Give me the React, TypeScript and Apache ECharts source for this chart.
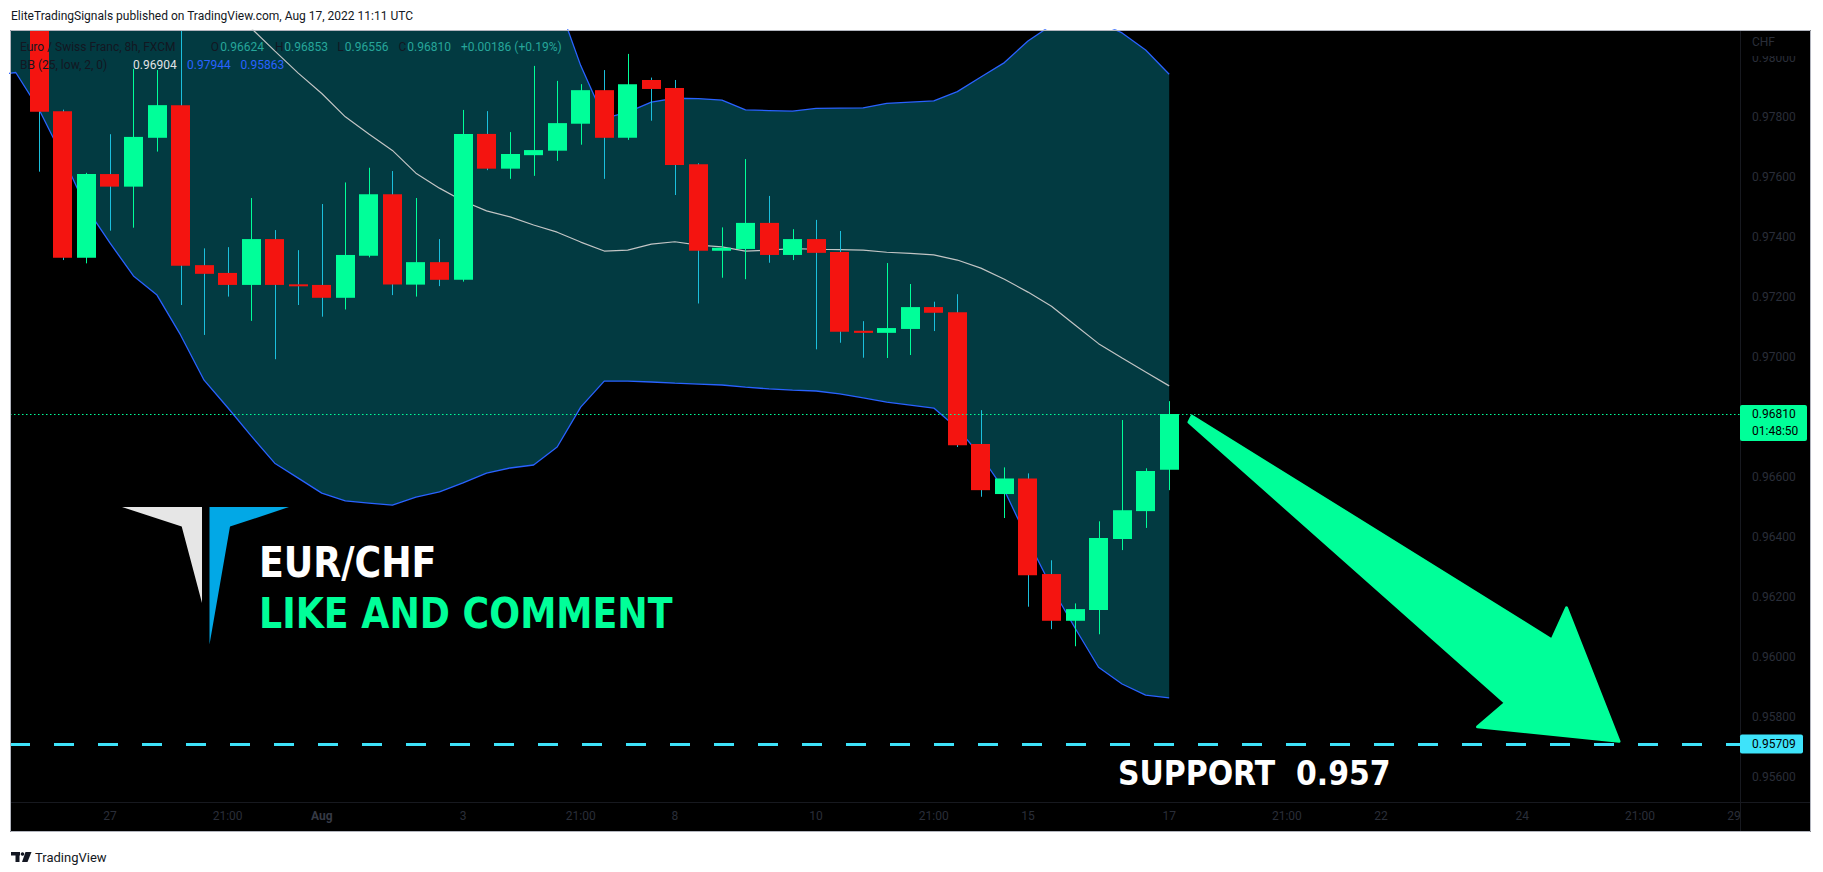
import React, { useEffect, useRef } from 'react';
import * as echarts from 'echarts';

const W = 1823;
const H = 872;

// 8h candles, index 0..48
const openPrices = [
  0.9812, 0.97821, 0.97332, 0.97611, 0.97569, 0.97732, 0.97841, 0.97307, 0.97281, 0.97241,
  0.97394, 0.97243, 0.97241, 0.97198, 0.97338, 0.97544, 0.97242, 0.97317, 0.97258, 0.97745,
  0.97629, 0.97674, 0.97689, 0.97779, 0.97891, 0.97732, 0.97925, 0.97898, 0.97644, 0.97355,
  0.97361, 0.97448, 0.97341, 0.97394, 0.97351, 0.97088, 0.97081, 0.97094, 0.97167, 0.9715,
  0.9671, 0.96543, 0.96595, 0.96276, 0.9612, 0.96156, 0.96393, 0.96486, 0.96624,
];
const closePrices = [
  0.97819, 0.97332, 0.97611, 0.97569, 0.97735, 0.97841, 0.97305, 0.97278, 0.97241, 0.97394,
  0.97241, 0.97237, 0.97198, 0.97341, 0.97544, 0.97242, 0.97317, 0.97258, 0.97745, 0.97629,
  0.97678, 0.97691, 0.97781, 0.97891, 0.97732, 0.97911, 0.97895, 0.97641, 0.97355, 0.97365,
  0.97448, 0.97341, 0.97394, 0.97348, 0.97085, 0.97081, 0.97097, 0.97167, 0.97148, 0.96706,
  0.96556, 0.96595, 0.96272, 0.9612, 0.96159, 0.96396, 0.96489, 0.9662, 0.9681,
];
const lowPrices = [
  0.97619, 0.97324, 0.97313, 0.97422, 0.97432, 0.97686, 0.97174, 0.97074, 0.97202, 0.97121,
  0.96993, 0.97174, 0.97135, 0.97159, 0.97333, 0.97207, 0.97202, 0.97237, 0.97252, 0.97624,
  0.97595, 0.97605, 0.97655, 0.97709, 0.97595, 0.97725, 0.97789, 0.97541, 0.97179, 0.97265,
  0.9726, 0.97315, 0.97324, 0.97026, 0.97048, 0.96998, 0.96997, 0.97007, 0.97087, 0.967,
  0.96534, 0.96463, 0.96167, 0.96092, 0.96035, 0.96075, 0.96356, 0.9643, 0.96556,
];
const highPrices = [
  0.9815, 0.97826, 0.97615, 0.97744, 0.97962, 0.97958, 0.981, 0.97363, 0.97367, 0.97531,
  0.97424, 0.97357, 0.97511, 0.97583, 0.97632, 0.97621, 0.97531, 0.97394, 0.97825, 0.97821,
  0.97751, 0.97972, 0.97922, 0.97911, 0.97958, 0.98012, 0.97933, 0.97925, 0.97647, 0.97433,
  0.97661, 0.97538, 0.97427, 0.97458, 0.97421, 0.9712, 0.97314, 0.97244, 0.97185, 0.9721,
  0.96823, 0.96632, 0.96612, 0.96322, 0.96178, 0.96452, 0.9679, 0.96629, 0.96853,
];

// Bollinger Bands (25, low, 2) for candle index -2..48
const bbUpper = [
  0.988, 0.9878, 0.9876, 0.9873, 0.987, 0.9867, 0.9864, 0.9861, 0.9858, 0.9855,
  0.9852, 0.9849, 0.9846, 0.9843, 0.984, 0.9837, 0.9834, 0.9831, 0.9829, 0.9827,
  0.9825, 0.9824, 0.9823, 0.9822,
  0.98192, 0.97973, 0.97797, 0.97818, 0.97851, 0.97864, 0.97863, 0.97858, 0.97825, 0.97823,
  0.97821, 0.9783, 0.97831, 0.97832, 0.97847, 0.97851, 0.97855, 0.97886, 0.97935, 0.97983,
  0.98055, 0.98108, 0.98132, 0.98118, 0.98082, 0.98025, 0.97944,
];
const bbMiddle = [
  0.985, 0.9846, 0.9842, 0.9838, 0.9834, 0.983, 0.9826, 0.9822, 0.9818, 0.9815, 0.9812,
  0.98098, 0.98022, 0.97948, 0.9788, 0.97802, 0.97745, 0.9769, 0.97614, 0.97564, 0.97521,
  0.97488, 0.97468, 0.97441, 0.97417, 0.97384, 0.97354, 0.97357, 0.97377, 0.97385, 0.97374,
  0.97368, 0.97354, 0.97357, 0.97362, 0.9736, 0.97359, 0.97357, 0.9735, 0.97346, 0.97341,
  0.97324, 0.97297, 0.9726, 0.97217, 0.9717, 0.97107, 0.97045, 0.96997, 0.9695, 0.96904,
];
const bbLower = [
  0.9794, 0.9795, 0.97825, 0.97668, 0.97498, 0.97381, 0.97271, 0.97207, 0.97074, 0.96923,
  0.96832, 0.96737, 0.96646, 0.96596, 0.96546, 0.9652, 0.96513, 0.96506, 0.96533, 0.9655,
  0.9658, 0.96613, 0.9663, 0.9664, 0.967, 0.96833, 0.9692, 0.9692, 0.96917, 0.96913,
  0.9691, 0.96907, 0.969, 0.96894, 0.9689, 0.96887, 0.96877, 0.96864, 0.9685, 0.9684,
  0.9683, 0.96763, 0.9667, 0.96556, 0.96389, 0.96232, 0.96096, 0.95965, 0.95909, 0.95872,
  0.95863,
];

const timeTickIndex = [3, 8, 12, 18, 23, 27, 33, 38, 42, 48, 53, 57, 63, 68, 72];
const timeTickLabels = ['27', '21:00', 'Aug', '3', '21:00', '8', '10', '21:00', '15', '17', '21:00', '22', '24', '21:00', '29'];
const priceTicks = [0.956, 0.958, 0.96, 0.962, 0.964, 0.966, 0.968, 0.97, 0.972, 0.974, 0.976, 0.978, 0.98];

const lastPrice = 0.9681;
const supportPrice = 0.95709;

// arrow outline in (candle index, price)
const arrowX = [48.97, 64.26, 64.88, 67.11, 61.1, 62.29, 48.84];
const arrowY = [0.96803, 0.96056, 0.96163, 0.95718, 0.95766, 0.95846, 0.96783];

const GREEN = '#00ff99';
const RED = '#f41410';
const WICK_RED = '#1bbfdc';
const BAND = '#023a41';
const BB_BLUE = '#2962ff';
const MID = '#c2c4c4';
const AXIS_TXT = '#2a2e39';
const DARK = '#131722';
const TEAL = '#26a69a';
const SUPPORT_C = '#3ee3fa';
const FONT = 'Roboto';

const candleData = openPrices.map((o, i) => [i, o, closePrices[i], lowPrices[i], highPrices[i]]);
const bbIndex = bbUpper.map((_, k) => k - 2);

function buildOption(): any {
  return {
    animation: false,
    backgroundColor: '#ffffff',
    grid: { left: 10, right: 83, top: 30, bottom: 70, show: true, backgroundColor: '#000000', borderWidth: 0 },
    xAxis: {
      type: 'value',
      min: -1.245,
      max: 72.25,
      z: 3,
      axisLine: { show: false },
      axisTick: { show: false },
      splitLine: { show: false },
      axisLabel: {
        customValues: timeTickIndex,
        formatter: (v: number) => {
          const k = timeTickIndex.indexOf(Math.round(v));
          const s = k >= 0 ? timeTickLabels[k] : '';
          return s === 'Aug' ? '{b|Aug}' : s;
        },
        rich: { b: { fontWeight: 'bold', color: '#363a45', fontSize: 12, fontFamily: FONT } },
        color: AXIS_TXT,
        fontSize: 12,
        fontFamily: FONT,
        margin: 8,
      },
    },
    yAxis: {
      type: 'value',
      position: 'right',
      min: 0.955152,
      max: 0.980918,
      z: 5,
      axisLine: { show: false },
      axisTick: { show: false },
      splitLine: { show: false },
      axisLabel: {
        customValues: priceTicks,
        formatter: (v: number) => v.toFixed(5),
        color: AXIS_TXT,
        fontSize: 12,
        fontFamily: FONT,
        margin: 12,
        align: 'left',
      },
    },
    series: [
      {
        type: 'custom',
        z: 1,
        clip: true,
        silent: true,
        data: [[0, 0.97]],
        renderItem: (params: any, api: any) => {
          const pts: number[][] = [];
          bbIndex.forEach((x, k) => pts.push(api.coord([x, bbUpper[k]])));
          for (let k = bbIndex.length - 1; k >= 0; k--) pts.push(api.coord([bbIndex[k], bbLower[k]]));
          return { type: 'polygon', shape: { points: pts }, style: { fill: BAND } };
        },
      },
      {
        type: 'line',
        z: 2,
        silent: true,
        showSymbol: false,
        data: bbIndex.map((x, k) => [x, bbUpper[k]]),
        lineStyle: { color: BB_BLUE, width: 1.3 },
      },
      {
        type: 'line',
        z: 2,
        silent: true,
        showSymbol: false,
        data: bbIndex.map((x, k) => [x, bbLower[k]]),
        lineStyle: { color: BB_BLUE, width: 1.3 },
      },
      {
        type: 'line',
        z: 2,
        silent: true,
        showSymbol: false,
        data: bbIndex.map((x, k) => [x, bbMiddle[k]]),
        lineStyle: { color: MID, width: 1.2 },
        markLine: {
          silent: true,
          precision: 6,
          symbol: ['none', 'none'],
          label: { show: false },
          animation: false,
          data: [
            { yAxis: lastPrice, lineStyle: { color: GREEN, width: 1, type: [1.5, 2.5] } },
            { yAxis: supportPrice, lineStyle: { color: SUPPORT_C, width: 3, type: [20, 24] } },
          ],
        },
      },
      {
        type: 'custom',
        z: 3,
        clip: true,
        silent: true,
        data: candleData,
        renderItem: (params: any, api: any) => {
          const x = api.value(0);
          const o = api.value(1);
          const c = api.value(2);
          const l = api.value(3);
          const h = api.value(4);
          const po = api.coord([x, o]);
          const pc = api.coord([x, c]);
          const pl = api.coord([x, l]);
          const ph = api.coord([x, h]);
          const bw = Math.round(api.size([1, 0])[0] * 0.81);
          const up = c >= o;
          const cx = Math.round(po[0]) + 0.5;
          const top = Math.min(po[1], pc[1]);
          const hgt = Math.max(Math.abs(po[1] - pc[1]), 2);
          return {
            type: 'group',
            children: [
              { type: 'line', shape: { x1: cx, y1: ph[1], x2: cx, y2: pl[1] }, style: { stroke: up ? GREEN : WICK_RED, lineWidth: 1 } },
              { type: 'rect', shape: { x: Math.round(po[0] - bw / 2), y: top, width: bw, height: hgt }, style: { fill: up ? GREEN : RED } },
            ],
          };
        },
      },
    ],
  };
}

function txt(x: number, y: number, text: string, fill: string, fontSize: number, z = 10, extra: any = {}, family = FONT, weight = 'normal'): any {
  return {
    type: 'text',
    x,
    y,
    z,
    silent: true,
    ...extra,
    style: { text, fill, fontSize, fontFamily: family, fontWeight: weight, verticalAlign: 'middle', align: 'left' },
  };
}

export default function App() {
  const ref = useRef<HTMLDivElement>(null);
  useEffect(() => {
    const el = ref.current;
    if (!el) return;
    const chart = echarts.init(el, null, { renderer: 'svg' });
    chart.setOption(buildOption());
    const px = (x: number, y: number) => chart.convertToPixel({ gridIndex: 0 } as any, [x, y]) as unknown as number[];
    const yLast = px(0, lastPrice)[1];
    const ySup = px(0, supportPrice)[1];
    const arrowPts = arrowX.map((x, k) => px(x, arrowY[k]));

    const els: any[] = [
      // time axis strip and price axis strip
      { type: 'rect', z: 1, silent: true, shape: { x: 10, y: 802, width: 1730, height: 30 }, style: { fill: '#000000' } },
      { type: 'rect', z: 4, silent: true, shape: { x: 1740, y: 30, width: 71, height: 802 }, style: { fill: '#000000' } },
      { type: 'line', z: 4, silent: true, shape: { x1: 10, y1: 802.5, x2: 1811, y2: 802.5 }, style: { stroke: '#17191f', lineWidth: 1 } },
      { type: 'line', z: 4, silent: true, shape: { x1: 1740.5, y1: 30, x2: 1740.5, y2: 832 }, style: { stroke: '#17191f', lineWidth: 1 } },
      { type: 'rect', z: 6, silent: true, shape: { x: 1741, y: 31, width: 69, height: 25 }, style: { fill: '#000000' } },
      txt(1752, 42, 'CHF', AXIS_TXT, 12, 7),
      // price labels
      { type: 'rect', z: 8, silent: true, shape: { x: 1740, y: yLast - 9, width: 67, height: 36, r: 2 }, style: { fill: GREEN } },
      txt(1752, yLast, '0.96810', '#000000', 12, 9),
      txt(1752, yLast + 17, '01:48:50', '#000000', 12, 9),
      { type: 'rect', z: 8, silent: true, shape: { x: 1740, y: ySup - 9.5, width: 63, height: 19, r: 2 }, style: { fill: SUPPORT_C } },
      txt(1752, ySup, '0.95709', '#000000', 12, 9),
      // panel border
      { type: 'rect', z: 20, silent: true, shape: { x: 10.5, y: 30.5, width: 1800, height: 801 }, style: { fill: 'none', stroke: '#b2b5be', lineWidth: 1 } },
      // header and footer
      txt(11, 16, 'EliteTradingSignals published on TradingView.com, Aug 17, 2022 11:11 UTC', DARK, 12, 20),
      { type: 'rect', z: 20, silent: true, shape: { x: 11, y: 852, width: 9, height: 3.5 }, style: { fill: DARK } },
      { type: 'rect', z: 20, silent: true, shape: { x: 15.5, y: 852, width: 4, height: 10 }, style: { fill: DARK } },
      { type: 'circle', z: 20, silent: true, shape: { cx: 22.5, cy: 854, r: 1.8 }, style: { fill: DARK } },
      { type: 'polygon', z: 20, silent: true, shape: { points: [[25.5, 852], [31.5, 852], [27.5, 862], [22, 862]] }, style: { fill: DARK } },
      txt(35, 857, 'TradingView', DARK, 13, 20),
      // legend
      txt(20, 47, 'Euro / Swiss Franc, 8h, FXCM', DARK, 12),
      txt(210.7, 47, 'O', DARK, 12),
      txt(220.3, 47, '0.96624', TEAL, 12),
      txt(275.1, 47, 'H', DARK, 12),
      txt(284.3, 47, '0.96853', TEAL, 12),
      txt(337.2, 47, 'L', DARK, 12),
      txt(344.8, 47, '0.96556', TEAL, 12),
      txt(398.5, 47, 'C', DARK, 12),
      txt(407.3, 47, '0.96810', TEAL, 12),
      txt(460.9, 47, '+0.00186 (+0.19%)', TEAL, 12),
      txt(20, 65, 'BB (25, low, 2, 0)', DARK, 12),
      txt(133, 65, '0.96904', '#e1e3e6', 12),
      txt(187, 65, '0.97944', BB_BLUE, 12),
      txt(240.6, 65, '0.95863', BB_BLUE, 12),
      // logo
      { type: 'polygon', z: 10, silent: true, shape: { points: [[122, 507], [202, 507], [202, 603], [181.7, 526.6]] }, style: { fill: '#e6e6e6' } },
      { type: 'polygon', z: 10, silent: true, shape: { points: [[209.5, 507], [289, 507], [230, 526.6], [209.5, 644.5]] }, style: { fill: '#02a8e6' } },
      txt(259, 562, 'EUR/CHF', '#ffffff', 43, 10, { scaleX: 0.845 }, 'DejaVu Sans', 'bold'),
      txt(259, 613, 'LIKE AND COMMENT', GREEN, 43, 10, { scaleX: 0.845 }, 'DejaVu Sans', 'bold'),
      txt(1118, 773, 'SUPPORT  0.957', '#ffffff', 34, 10, { scaleX: 0.88 }, 'DejaVu Sans', 'bold'),
      // arrow
      {
        type: 'polygon',
        z: 10,
        silent: true,
        shape: { points: arrowPts },
        style: { fill: GREEN, stroke: GREEN, lineWidth: 3, lineJoin: 'round' },
      },
    ];
    chart.setOption({ graphic: { elements: els } });
    return () => chart.dispose();
  }, []);
  return <div ref={ref} style={{ position: 'fixed', left: 0, top: 0, width: W, height: H, background: '#ffffff' }} />;
}
